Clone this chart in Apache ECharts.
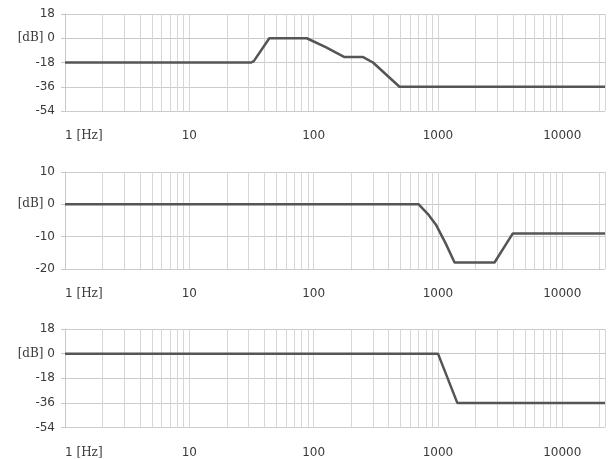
<!DOCTYPE html>
<html>
<head>
<meta charset="utf-8">
<script src="https://cdn.jsdelivr.net/npm/echarts@6/dist/echarts.min.js"></script>
<style>html,body{margin:0;padding:0;background:#fff}#c{width:612px;height:459px}</style>
</head>
<body>
<div id="c"></div>
<script>
// Data (frequency in Hz, level in dB)
var freqMin = 1;
var freqMax = 22050;
var xTickLabels = [1, 10, 100, 1000, 10000];

var curve1Freq = [1, 31.5, 33, 44, 88, 125, 177, 250, 300, 490, 22050];
var curve1Db   = [-18, -18, -17, 0, 0, -6.6, -14, -14, -18, -36, -36];
var yTicks1 = [-54, -36, -18, 0, 18];

var curve2Freq = [1, 700, 830, 970, 1150, 1360, 2850, 4000, 22050];
var curve2Db   = [0, 0, -3, -6.5, -12, -18, -18, -9, -9];
var yTicks2 = [-20, -10, 0, 10];

var curve3Freq = [1, 1000, 1430, 22050];
var curve3Db   = [0, 0, -36, -36];
var yTicks3 = [-54, -36, -18, 0, 18];

function pairs(f, d) { return f.map(function (v, i) { return [v, d[i]]; }); }

// minor vertical grid values (2..9 per decade)
var minorGrid = [];
for (var dec = 1; dec <= 10000; dec *= 10) {
  for (var k = 2; k <= 9; k++) {
    if (dec * k <= freqMax) minorGrid.push(dec * k);
  }
}

var grids = [
  {left: 65, top: 14, width: 540, height: 97},
  {left: 65, top: 172, width: 540, height: 97},
  {left: 65, top: 329, width: 540, height: 98.5}
];
var yCfg = [
  {ticks: yTicks1},
  {ticks: yTicks2},
  {ticks: yTicks3}
];
var curves = [pairs(curve1Freq, curve1Db), pairs(curve2Freq, curve2Db), pairs(curve3Freq, curve3Db)];

var textColor = '#3a3a3a';
var sans = 'DejaVu Sans';
var serif = 'DejaVu Serif';

var xAxes = [], yAxes = [], series = [];
for (var i = 0; i < 3; i++) {
  var yt = yCfg[i].ticks;
  xAxes.push({
    gridIndex: i, type: 'log', logBase: 10, min: freqMin, max: freqMax,
    axisLine: {show: true, lineStyle: {color: '#c8c8c8', width: 1}},
    axisTick: {show: false},
    splitLine: {show: true, lineStyle: {color: '#d6d6d6', width: 1}},
    axisLabel: {
      margin: 19, color: textColor, fontFamily: sans, fontSize: 12,
      alignMinLabel: 'left', showMaxLabel: false,
      formatter: function (v) {
        var r = Math.round(v);
        if (xTickLabels.indexOf(r) < 0) return '';
        return r === 1 ? '1 {u|[Hz]}' : String(r);
      },
      rich: {u: {fontFamily: serif, fontSize: 12, color: textColor}}
    }
  });
  yAxes.push({
    gridIndex: i, type: 'value', min: yt[0], max: yt[yt.length - 1],
    interval: yt[1] - yt[0],
    axisLine: {show: true, lineStyle: {color: '#c8c8c8', width: 1}},
    axisTick: {show: true, length: 4, lineStyle: {color: '#c8c8c8'}},
    splitLine: {show: true, lineStyle: {color: '#cccccc', width: 1}},
    axisLabel: {
      margin: 10, color: textColor, fontFamily: sans, fontSize: 12,
      formatter: function (v) { return v === 0 ? '{u|[dB]} 0' : String(v); },
      rich: {u: {fontFamily: serif, fontSize: 12, color: textColor}}
    }
  });
  series.push({
    type: 'line', xAxisIndex: i, yAxisIndex: i, data: curves[i],
    symbol: 'none', smooth: false, silent: true,
    lineStyle: {color: '#555555', width: 2.5},
    markLine: {
      silent: true, symbol: 'none', label: {show: false},
      lineStyle: {color: '#d6d6d6', width: 1, type: 'solid'},
      data: minorGrid.map(function (v) { return {xAxis: v}; }),
      z: 1
    },
    z: 5
  });
}

var chart = echarts.init(document.getElementById('c'), null, {renderer: 'canvas'});
chart.setOption({
  animation: false,
  backgroundColor: '#ffffff',
  grid: grids,
  xAxis: xAxes,
  yAxis: yAxes,
  series: series
});
</script>
</body>
</html>
